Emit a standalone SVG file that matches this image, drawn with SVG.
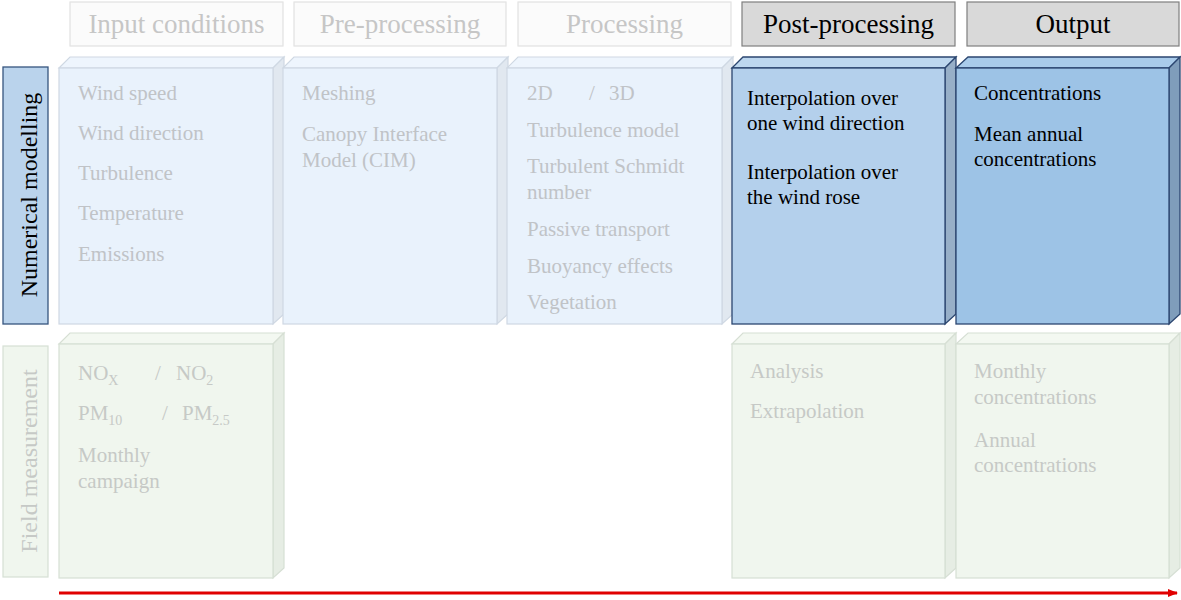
<svg xmlns="http://www.w3.org/2000/svg" width="1181" height="600" viewBox="0 0 1181 600">
<defs>
<style>
text{font-family:"Liberation Serif","Times New Roman",serif;}
.hdr{font-size:27px;text-anchor:middle;}
.hf rect{fill:#fbfbfb;stroke:#e2e2e2;stroke-width:1.2;}
.hf text{fill:#c6c6c6;}
.ha rect{fill:#d9d9d9;stroke:#7f7f7f;stroke-width:1.2;}
.ha text{fill:#000;}
.t{font-size:21px;}
.fb .front{fill:#e9f2fc;}
.fb .top{fill:#eef5fd;}
.fb .side{fill:#e1e8f0;}
.fb polygon,.fb rect{stroke:#cfd8e3;stroke-width:1.2;}
.fb text{fill:#c0c3c7;}
.fg .front{fill:#f0f6ee;}
.fg .top{fill:#f3f8f1;}
.fg .side{fill:#e6ede4;}
.fg polygon,.fg rect{stroke:#d6dfd4;stroke-width:1.2;}
.fg text{fill:#c6c9c6;}
.pp .front{fill:#b4d0ec;}
.pp .top{fill:#bdd7ef;}
.pp .side{fill:#97afc8;}
.op .front{fill:#9dc3e6;}
.op .top{fill:#a9cbea;}
.op .side{fill:#7f9dbb;}
.pp polygon,.pp rect,.op polygon,.op rect{stroke:#2b4670;stroke-width:1.3;}
.pp text,.op text{fill:#000;}
.sub{font-size:14px;}
</style>
<marker id="arr" markerWidth="10" markerHeight="8" refX="9" refY="4" orient="auto" markerUnits="userSpaceOnUse">
<path d="M0,0 L10,4 L0,8 Z" fill="#e00000"/>
</marker>
</defs>

<g id="hdr-input" class="hf"><rect x="70" y="2" width="213" height="44"/><text class="hdr" x="176.5" y="33">Input conditions</text></g>
<g id="hdr-pre" class="hf"><rect x="294" y="2" width="212" height="44"/><text class="hdr" x="400" y="33">Pre-processing</text></g>
<g id="hdr-proc" class="hf"><rect x="518" y="2" width="213" height="44"/><text class="hdr" x="624.5" y="33">Processing</text></g>
<g id="hdr-post" class="ha"><rect x="742" y="2" width="213" height="44"/><text class="hdr" x="848.5" y="33">Post-processing</text></g>
<g id="hdr-out" class="ha"><rect x="967" y="2" width="212" height="44"/><text class="hdr" x="1073" y="33">Output</text></g>

<g id="row-num">
<rect x="3" y="67" width="45" height="257" fill="#bad3ec" stroke="#36557f" stroke-width="1.3"/>
<text transform="translate(37,195) rotate(-90)" text-anchor="middle" font-size="24" fill="#000">Numerical modelling</text>
</g>
<g id="row-field">
<rect x="3" y="346" width="45" height="231" fill="#f0f6ee" stroke="#d6dfd4" stroke-width="1.2"/>
<text transform="translate(37,461) rotate(-90)" text-anchor="middle" font-size="24" fill="#c6c9c6">Field measurement</text>
</g>

<g id="num-input" class="fb">
<polygon class="top" points="59,68 70,57 284,57 273,68"/>
<polygon class="side" points="273,68 284,57 284,314 273,324"/>
<rect class="front" x="59" y="68" width="214" height="256"/>
<text class="t" x="78" y="100">Wind speed</text>
<text class="t" x="78" y="140">Wind direction</text>
<text class="t" x="78" y="180">Turbulence</text>
<text class="t" x="78" y="220">Temperature</text>
<text class="t" x="78" y="261">Emissions</text>
</g>
<g id="num-pre" class="fb">
<polygon class="top" points="283,68 294,57 508,57 497,68"/>
<polygon class="side" points="497,68 508,57 508,314 497,324"/>
<rect class="front" x="283" y="68" width="214" height="256"/>
<text class="t" x="302" y="100">Meshing</text>
<text class="t" x="302" y="141">Canopy Interface</text>
<text class="t" x="302" y="167">Model (CIM)</text>
</g>
<g id="num-proc" class="fb">
<polygon class="top" points="507,68 518,57 733,57 722,68"/>
<polygon class="side" points="722,68 733,57 733,314 722,324"/>
<rect class="front" x="507" y="68" width="215" height="256"/>
<text class="t" x="527" y="100">2D</text>
<text class="t" x="589" y="100">/</text>
<text class="t" x="609" y="100">3D</text>
<text class="t" x="527" y="137">Turbulence model</text>
<text class="t" x="527" y="173">Turbulent Schmidt</text>
<text class="t" x="527" y="199">number</text>
<text class="t" x="527" y="236">Passive transport</text>
<text class="t" x="527" y="273">Buoyancy effects</text>
<text class="t" x="527" y="309">Vegetation</text>
</g>
<g id="num-post" class="pp">
<polygon class="top" points="732,68 743,57 956,57 945,68"/>
<polygon class="side" points="945,68 956,57 956,314 945,324"/>
<rect class="front" x="732" y="68" width="213" height="256"/>
<text class="t" x="747" y="105">Interpolation over</text>
<text class="t" x="747" y="130">one wind direction</text>
<text class="t" x="747" y="179">Interpolation over</text>
<text class="t" x="747" y="204">the wind rose</text>
</g>
<g id="num-out" class="op">
<polygon class="top" points="956,68 968,57 1180,57 1169,68"/>
<polygon class="side" points="1169,68 1180,57 1180,314 1169,324"/>
<rect class="front" x="956" y="68" width="213" height="256"/>
<text class="t" x="974" y="100">Concentrations</text>
<text class="t" x="974" y="141">Mean annual</text>
<text class="t" x="974" y="166">concentrations</text>
</g>

<g id="field-input" class="fg">
<polygon class="top" points="59,344 70,333 284,333 273,344"/>
<polygon class="side" points="273,344 284,333 284,568 273,578"/>
<rect class="front" x="59" y="344" width="214" height="234"/>
<text class="t" x="78" y="380">NO<tspan class="sub" dy="5">X</tspan></text>
<text class="t" x="155" y="380">/</text>
<text class="t" x="176" y="380">NO<tspan class="sub" dy="5">2</tspan></text>
<text class="t" x="78" y="420">PM<tspan class="sub" dy="5">10</tspan></text>
<text class="t" x="162" y="420">/</text>
<text class="t" x="182" y="420">PM<tspan class="sub" dy="5">2.5</tspan></text>
<text class="t" x="78" y="462">Monthly</text>
<text class="t" x="78" y="488">campaign</text>
</g>
<g id="field-post" class="fg">
<polygon class="top" points="732,344 743,333 956,333 945,344"/>
<polygon class="side" points="945,344 956,333 956,568 945,578"/>
<rect class="front" x="732" y="344" width="213" height="234"/>
<text class="t" x="750" y="378">Analysis</text>
<text class="t" x="750" y="418">Extrapolation</text>
</g>
<g id="field-out" class="fg">
<polygon class="top" points="956,344 968,333 1180,333 1169,344"/>
<polygon class="side" points="1169,344 1180,333 1180,568 1169,578"/>
<rect class="front" x="956" y="344" width="213" height="234"/>
<text class="t" x="974" y="378">Monthly</text>
<text class="t" x="974" y="404">concentrations</text>
<text class="t" x="974" y="447">Annual</text>
<text class="t" x="974" y="472">concentrations</text>
</g>

<g id="connectors">
<line x1="59" y1="593" x2="1177" y2="593" stroke="#e00000" stroke-width="3" marker-end="url(#arr)"/>
</g>
</svg>
